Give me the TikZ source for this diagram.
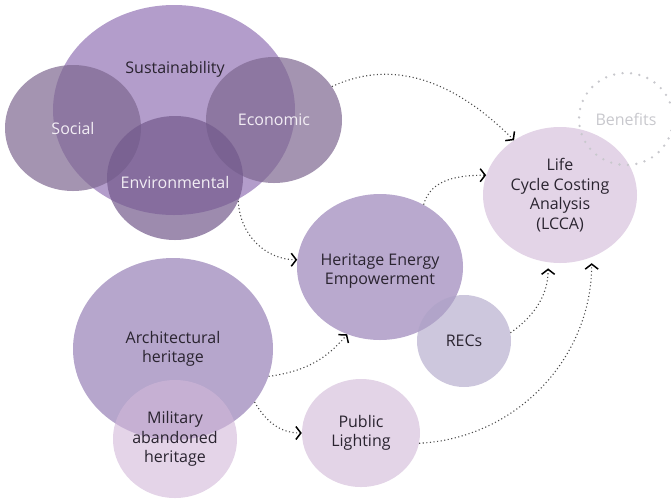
\documentclass[tikz,border=0pt]{standalone}
\usepackage{fontspec}
\setmainfont{Open Sans}
\usetikzlibrary{positioning, arrows.meta, shapes.geometric}
\definecolor{susPurple}{HTML}{B39DCB}
\definecolor{ringGrey}{HTML}{7E6790}
\definecolor{envPurple}{HTML}{735A8C}
\definecolor{heePurple}{HTML}{B9A9CE}
\definecolor{archPurple}{HTML}{B6A6CC}
\definecolor{recsLilac}{HTML}{ACA2C6}
\definecolor{milPink}{HTML}{D2B7D9}
\definecolor{paleLilac}{HTML}{E3D4E7}
\definecolor{inkDark}{HTML}{2A2430}
\definecolor{inkLight}{HTML}{F2EDF4}
\definecolor{linkGrey}{HTML}{4A4A4A}
\definecolor{ghostGrey}{HTML}{C8C8CD}

\tikzset{
  blob/.style={ellipse, inner sep=0pt, align=center, text=inkDark,
    font=\fontsize{16}{19.5}\selectfont},
  tag/.style={align=center, inner sep=0pt, text=inkDark,
    font=\fontsize{16}{19.5}\selectfont},
  link/.style={linkGrey, line width=1.1pt, dash pattern=on 1.1pt off 2.5pt,
    -{Straight Barb[length=5pt, width=13pt, line width=1.5pt, color=black]}},
}

\begin{document}
\begin{tikzpicture}[x=1pt, y=-1pt]
    \useasboundingbox (0,0) rectangle (671,499);
    % ---- sustainability pillars ----
    \node[blob, minimum width=242pt, minimum height=210pt, fill=susPurple]
      (sus) at (174,110) {};
    \node[blob, minimum width=136pt, minimum height=126pt, fill=ringGrey,
      fill opacity=0.7] (social) at (73,128) {};
    \node[blob, minimum width=136pt, minimum height=126pt, fill=ringGrey,
      fill opacity=0.7] (econ) at (274,120) {};
    \node[blob, minimum width=136pt, minimum height=124pt, fill=envPurple,
      fill opacity=0.7] (env) at (175,178) {};
    \node[tag] (susText) at (175,69) {Sustainability};
    \node[tag, text=inkLight] (socialText) at (social) {Social};
    \node[tag, text=inkLight] (econText) at (econ) {Economic};
    \node[tag, text=inkLight] (envText) at (175,182) {Environmental};
    % ---- heritage side ----
    \node[blob, minimum width=200pt, minimum height=182pt, fill=archPurple]
      (arch) at (173,349) {Architectural\\heritage};
    \node[blob, minimum width=124pt, minimum height=118pt, fill=milPink,
      fill opacity=0.6, text opacity=1]
      (mil) at (175,439) {Military\\abandoned\\heritage};
    \node[blob, minimum width=166pt, minimum height=146pt, fill=heePurple]
      (hee) at (380,267) {};
    \node[tag] (heeText) at (380,271) {Heritage Energy\\Empowerment};
    \node[blob, minimum width=94pt, minimum height=92pt, fill=recsLilac,
      fill opacity=0.6, text opacity=1]
      (recs) at (464,341) {RECs};
    \node[blob, minimum width=118pt, minimum height=108pt, fill=paleLilac]
      (pub) at (361,433) {Public\\Lighting};
    \node[blob, minimum width=154pt, minimum height=136pt, fill=paleLilac]
      (lcca) at (560,195) {Life\\Cycle Costing\\Analysis\\(LCCA)};
    \node[blob, minimum width=94pt, minimum height=92pt, draw=ghostGrey,
      line width=2.6pt, line cap=round, dash pattern=on 0pt off 8.5pt,
      text=ghostGrey]
      (ben) at (626,119) {Benefits};
    % ---- dotted links ----
    \draw[link] (econ.30) to[out=25, in=135] (lcca.130);
    \draw[link] (env.-20) to[out=-88, in=180] (hee.175);
    \draw[link] (hee.55) to[out=75, in=180] (lcca.165);
    \draw[link] (arch.-16) to[out=8, in=230] (hee.244);
    \draw[link] (arch.-33) to[out=-60, in=180] (pub.180);
    \draw[link, shorten >=6pt] (recs.10) to[out=35, in=-90] (lcca.-100);
    \draw[link, shorten >=6pt] (pub.-10) to[out=3, in=-90] (lcca.-63);
  \end{tikzpicture}
\end{document}
